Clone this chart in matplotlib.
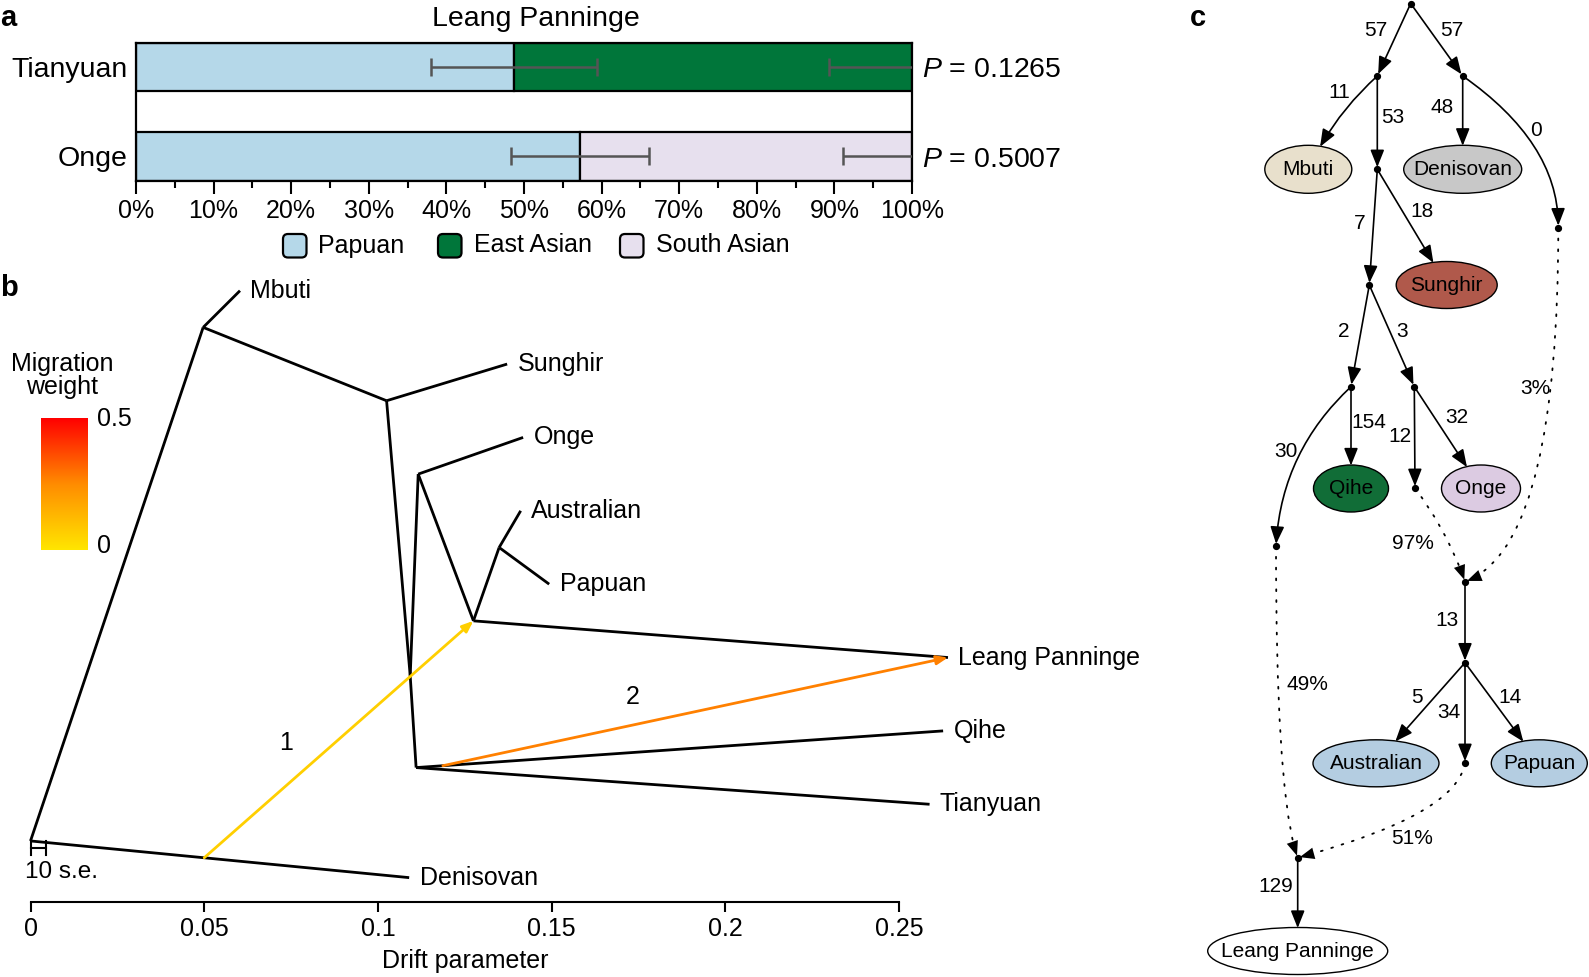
import numpy as np
import matplotlib
matplotlib.use('Agg')
import matplotlib.pyplot as plt
from matplotlib.patches import Ellipse, FancyArrowPatch, FancyBboxPatch
from matplotlib.colors import LinearSegmentedColormap

plt.rcParams['font.family'] = ['Liberation Sans', 'DejaVu Sans']
plt.rcParams['mathtext.fontset'] = 'custom'
plt.rcParams['mathtext.it'] = 'Liberation Sans:italic'
plt.rcParams['mathtext.rm'] = 'Liberation Sans'

W, H = 1589, 977

# ---------------------------------------------------------------------------
# data
# ---------------------------------------------------------------------------
# a: ancestry proportions for Leang Panninge
groups = ['Onge', 'Tianyuan']
papuan_share = [57.2, 48.7]
other_share = [42.8, 51.3]
other_source = ['South Asian', 'East Asian']
share_err = [8.9, 10.7]
p_values = ['0.5007', '0.1265']
sources = ['Papuan', 'East Asian', 'South Asian']
source_colors = ['#b5d8e9', '#00763a', '#e7e0ee']

# b: TreeMix tree (drift on x, TreeMix row position on y)
tips = ['Mbuti', 'Sunghir', 'Onge', 'Australian', 'Papuan',
        'Leang Panninge', 'Qihe', 'Tianyuan', 'Denisovan']
tip_drift = [0.0603, 0.1372, 0.1418, 0.1411, 0.1493, 0.2641, 0.2627, 0.2588, 0.1090]
tip_row = [0, 1, 2, 3, 4, 5, 6, 7, 8]
inner = ['root', 'n_mbuti', 'n_sunghir', 'n_x', 'n_onge', 'n_oce', 'n_auspap', 'n_east']
inner_drift = [0.0, 0.0497, 0.1025, 0.1093, 0.1116, 0.1275, 0.1349, 0.1110]
inner_row = [7.5, 0.5, 1.5, 5.25, 2.5, 4.5, 3.5, 6.5]
tree_edges = [('root', 'n_mbuti'), ('root', 'Denisovan'), ('n_mbuti', 'Mbuti'),
              ('n_mbuti', 'n_sunghir'), ('n_sunghir', 'Sunghir'), ('n_sunghir', 'n_x'),
              ('n_x', 'n_onge'), ('n_x', 'n_east'), ('n_onge', 'Onge'),
              ('n_onge', 'n_oce'), ('n_oce', 'n_auspap'), ('n_oce', 'Leang Panninge'),
              ('n_auspap', 'Australian'), ('n_auspap', 'Papuan'),
              ('n_east', 'Qihe'), ('n_east', 'Tianyuan')]
mig_branch = [('root', 'Denisovan'), ('n_east', 'Qihe')]
mig_at = [0.050, 0.1187]
mig_to = ['n_oce', 'Leang Panninge']
mig_weight = [0.065, 0.27]
mig_label = ['1', '2']
se_10 = 0.0044

# c: admixture graph (drift x 1000 on edges, admixture %)
c_parent = ['R', 'R', 'A', 'A', 'B', 'B', 'C', 'C', 'E', 'E', 'F', 'F',
            'G', 'G', 'H', 'D', 'J', 'K', 'K', 'K', 'I', 'L', 'M']
c_child = ['A', 'B', 'Mbuti', 'C', 'Denisovan', 'D', 'E', 'Sunghir', 'F', 'G',
           'Qihe', 'I', 'H', 'Onge', 'J', 'J', 'K', 'Australian', 'L', 'Papuan',
           'M', 'M', 'Leang Panninge']
c_label = ['57', '57', '11', '53', '48', '0', '7', '18', '2', '3', '154', '30',
           '12', '32', '97%', '3%', '13', '5', '34', '14', '49%', '51%', '129']
c_pops = ['Mbuti', 'Denisovan', 'Sunghir', 'Qihe', 'Onge', 'Australian',
          'Papuan', 'Leang Panninge']
c_pop_colors = ['#e8e0cc', '#c8c8c8', '#b0594b', '#116d37', '#dccbe2',
                '#b4cde1', '#b4cde1', '#ffffff']

# ---------------------------------------------------------------------------
# layout (pixel positions)
# ---------------------------------------------------------------------------
node_xy = {'R': (1410.7, 3.5), 'A': (1377.3, 76), 'B': (1462.7, 76),
           'C': (1377.3, 169.3), 'D': (1558.3, 227.7), 'E': (1369.3, 285),
           'F': (1351, 386.7), 'G': (1414.3, 386.7), 'H': (1415, 488.3),
           'I': (1276, 546), 'J': (1465, 581.7), 'K': (1465, 662.7),
           'L': (1465, 763.3), 'M': (1297.7, 857.7)}
pop_xy = [(1308.3, 169.3), (1462.7, 169.3), (1446.7, 285), (1351, 488.5),
          (1481, 488.5), (1376, 763.3), (1539.3, 763.3), (1297.7, 951)]
pop_wh = [(87, 48), (118, 48), (101, 47), (75, 47), (79, 47), (126, 47),
          (96, 47), (180, 47)]
c_label_xy = [(1376, 30.7), (1451.7, 30.7), (1339.3, 92.7), (1392.3, 117.3),
              (1442.3, 107.3), (1535.7, 130), (1360, 223.3), (1421.7, 211.7),
              (1344, 331.7), (1401.7, 331.7), (1369, 422.7), (1285.7, 451.7),
              (1400, 436.7), (1456.7, 417.7), (1413.3, 543.3), (1535, 388.3),
              (1447.3, 620), (1416.7, 697.3), (1449.3, 712.3), (1510, 697.3),
              (1307.7, 685), (1411.7, 838.3), (1276, 886)]
c_curve = {('A', 'Mbuti'): 'arc3,rad=0.1',
           ('B', 'D'): 'angle3,angleA=-35,angleB=90',
           ('F', 'I'): 'arc3,rad=0.2',
           ('H', 'J'): 'arc3,rad=-0.08',
           ('D', 'J'): 'angle3,angleA=90,angleB=20',
           ('I', 'M'): 'angle3,angleA=90,angleB=110',
           ('L', 'M'): 'angle3,angleA=-100,angleB=15'}


def box(x0, y0, x1, y1):
    return [x0 / W, 1 - y1 / H, (x1 - x0) / W, (y1 - y0) / H]


fig = plt.figure(figsize=(W / 100, H / 100), dpi=100)

ov = fig.add_axes([0, 0, 1, 1])
ov.set_xlim(0, W)
ov.set_ylim(H, 0)
ov.axis('off')
ov.patch.set_visible(False)

# panel letters
ov.text(0, 18, 'a', fontsize=21, fontweight='bold', va='center', ha='left')
ov.text(0, 288, 'b', fontsize=21, fontweight='bold', va='center', ha='left')
ov.text(1190, 18, 'c', fontsize=21, fontweight='bold', va='center', ha='left')

# ============================================================================
# a. stacked bars
# ============================================================================
col = dict(zip(sources, source_colors))
ax_a = fig.add_axes(box(136, 42.7, 912, 180.5))
ya = [0, 1.85]
ax_a.barh(ya, papuan_share, height=1, color=col['Papuan'], edgecolor='black', lw=1.6)
ax_a.barh(ya, other_share, left=papuan_share, height=1,
          color=[col[s] for s in other_source], edgecolor='black', lw=1.6)
for y, p, e in zip(ya, papuan_share, share_err):
    ax_a.errorbar([p, 100], [y, y], xerr=[e, e], fmt='none', ecolor='#555555',
                  elinewidth=1.8, capsize=6.5, capthick=1.8, zorder=4)
for y, pv in zip(ya, p_values):
    ax_a.text(101.3, y - 0.07, r'$P$ = ' + pv, fontsize=20.5, va='center', ha='left')
ax_a.set_xlim(0, 100)
ax_a.set_ylim(-0.5, 2.35)
ax_a.set_yticks(ya, groups, fontsize=20.5)
ax_a.tick_params(axis='y', length=0, pad=6)
ax_a.set_xticks(np.arange(0, 101, 10), [f'{v}%' for v in range(0, 101, 10)], fontsize=18)
ax_a.set_xticks(np.arange(5, 100, 10), minor=True)
ax_a.tick_params(axis='x', which='major', direction='out', length=9.5, width=1.5, pad=4)
ax_a.tick_params(axis='x', which='minor', direction='out', length=5, width=1.5)
for s in ax_a.spines.values():
    s.set_linewidth(1.6)
ov.text(536, 19, 'Leang Panninge', fontsize=20.5, ha='center', va='center')

for name, x0 in zip(sources, [283, 438, 620]):
    ov.add_patch(FancyBboxPatch((x0, 234), 23.5, 23.5,
                                boxstyle='round,pad=0,rounding_size=5',
                                facecolor=col[name], edgecolor='black', lw=1.6))
    ov.text(x0 + 35.5, 245.5, name, fontsize=18, va='center', ha='left')

# ============================================================================
# b. TreeMix tree
# ============================================================================
mig_cmap = LinearSegmentedColormap.from_list('mig', ['#ffe600', '#ff8c00', '#ff0000'])
pos = {n: (d, r) for n, d, r in zip(tips, tip_drift, tip_row)}
pos.update({n: (d, r) for n, d, r in zip(inner, inner_drift, inner_row)})

ax_b = fig.add_axes(box(30.5, 270, 899, 901.7))
ax_b.patch.set_visible(False)
ax_b.set_xlim(0, 0.25)
ax_b.set_ylim(8.328, -0.282)
for p, c in tree_edges:
    ax_b.plot([pos[p][0], pos[c][0]], [pos[p][1], pos[c][1]], color='black',
              lw=2, clip_on=False, solid_capstyle='butt')
for n in tips:
    ax_b.annotate(n, pos[n], xytext=(7.5, 0), textcoords='offset points',
                  fontsize=18, va='center', ha='left', annotation_clip=False)

label_offsets = [(-38, -3), (-45, 10.5)]
for (p, c), at, to, w, lab, off in zip(mig_branch, mig_at, mig_to, mig_weight,
                                      mig_label, label_offsets):
    (x0, y0), (x1, y1) = pos[p], pos[c]
    sy = y0 + (y1 - y0) * (at - x0) / (x1 - x0)
    tx, ty = pos[to]
    ax_b.annotate('', xy=(tx, ty), xytext=(at, sy), annotation_clip=False,
                  arrowprops=dict(arrowstyle='-|>,head_length=0.55,head_width=0.22',
                                  color=mig_cmap(w / 0.5), lw=2, mutation_scale=12,
                                  shrinkA=0, shrinkB=0))
    ax_b.annotate(lab, ((at + tx) / 2, (sy + ty) / 2), xytext=off,
                  textcoords='offset points', fontsize=18, ha='center', va='center')

# 10 s.e. scale bar
ax_b.plot([0, 0], [7.5, 7.69], color='black', lw=1.5, clip_on=False)
ax_b.plot([se_10, se_10], [7.5, 7.69], color='black', lw=1.5, clip_on=False)
ax_b.plot([0, se_10], [7.595, 7.595], color='black', lw=1.5, clip_on=False)
ax_b.text(-0.0016, 7.93, '10 s.e.', fontsize=17.5, va='center', ha='left')

for s in ['top', 'right', 'left']:
    ax_b.spines[s].set_visible(False)
ax_b.spines['bottom'].set_linewidth(1.5)
ax_b.spines['bottom'].set_bounds(0, 0.25)
ax_b.set_yticks([])
ax_b.set_xticks([0, 0.05, 0.1, 0.15, 0.2, 0.25], ['0', '0.05', '0.1', '0.15', '0.2', '0.25'],
                fontsize=18)
ax_b.tick_params(axis='x', direction='out', length=7, width=1.5, pad=4)
ax_b.set_xlabel('Drift parameter', fontsize=18, labelpad=6)

cax = fig.add_axes(box(40.5, 418, 87.5, 550))
cax.imshow(np.linspace(0, 0.5, 256)[:, None], aspect='auto', cmap=mig_cmap,
           origin='lower', vmin=0, vmax=0.5)
cax.axis('off')
ov.text(97, 419, '0.5', fontsize=18, va='center', ha='left')
ov.text(97, 546, '0', fontsize=18, va='center', ha='left')
ov.text(62, 375.5, 'Migration\nweight', fontsize=18, ha='center', va='center',
        linespacing=0.95)

# ============================================================================
# c. admixture graph
# ============================================================================
ells = {}
for name, (cx, cy), (w, h), fc in zip(c_pops, pop_xy, pop_wh, c_pop_colors):
    e = Ellipse((cx, cy), w, h, facecolor=fc, edgecolor='black', lw=1.0, zorder=3)
    ov.add_patch(e)
    ells[name] = (e, (cx, cy))
    ov.text(cx, cy + 0.5, name, fontsize=15, ha='center', va='center', zorder=4)

head = '-|>,head_length=0.75,head_width=0.3'
for p, c, lab, (lx, ly) in zip(c_parent, c_child, c_label, c_label_xy):
    dotted = lab.endswith('%')
    if c in ells:
        patch_b, end = ells[c]
        shrink_b = 0
    else:
        patch_b, end = None, node_xy[c]
        shrink_b = 1.5
    style = c_curve.get((p, c), 'arc3,rad=0')
    if dotted:
        ov.add_patch(FancyArrowPatch(node_xy[p], end, patchB=patch_b,
                                     connectionstyle=style, arrowstyle='-',
                                     lw=1.3, color='black', linestyle=(0, (1, 5)),
                                     shrinkA=0, shrinkB=shrink_b + 6, zorder=2))
        ov.add_patch(FancyArrowPatch(node_xy[p], end, patchB=patch_b,
                                     connectionstyle=style, arrowstyle=head,
                                     mutation_scale=14, lw=0, color='black',
                                     shrinkA=0, shrinkB=shrink_b, zorder=2))
    else:
        ov.add_patch(FancyArrowPatch(node_xy[p], end, patchB=patch_b,
                                     connectionstyle=style, arrowstyle=head,
                                     mutation_scale=14, lw=1.2, color='black',
                                     shrinkA=0, shrinkB=shrink_b, zorder=2))
    ov.text(lx, ly, lab, fontsize=15, ha='center', va='center', zorder=4)

nx = [v[0] for v in node_xy.values()]
ny = [v[1] for v in node_xy.values()]
ov.plot(nx, ny, 'o', ms=4.2, color='black', zorder=5)

fig.savefig('out.png', dpi=100)
